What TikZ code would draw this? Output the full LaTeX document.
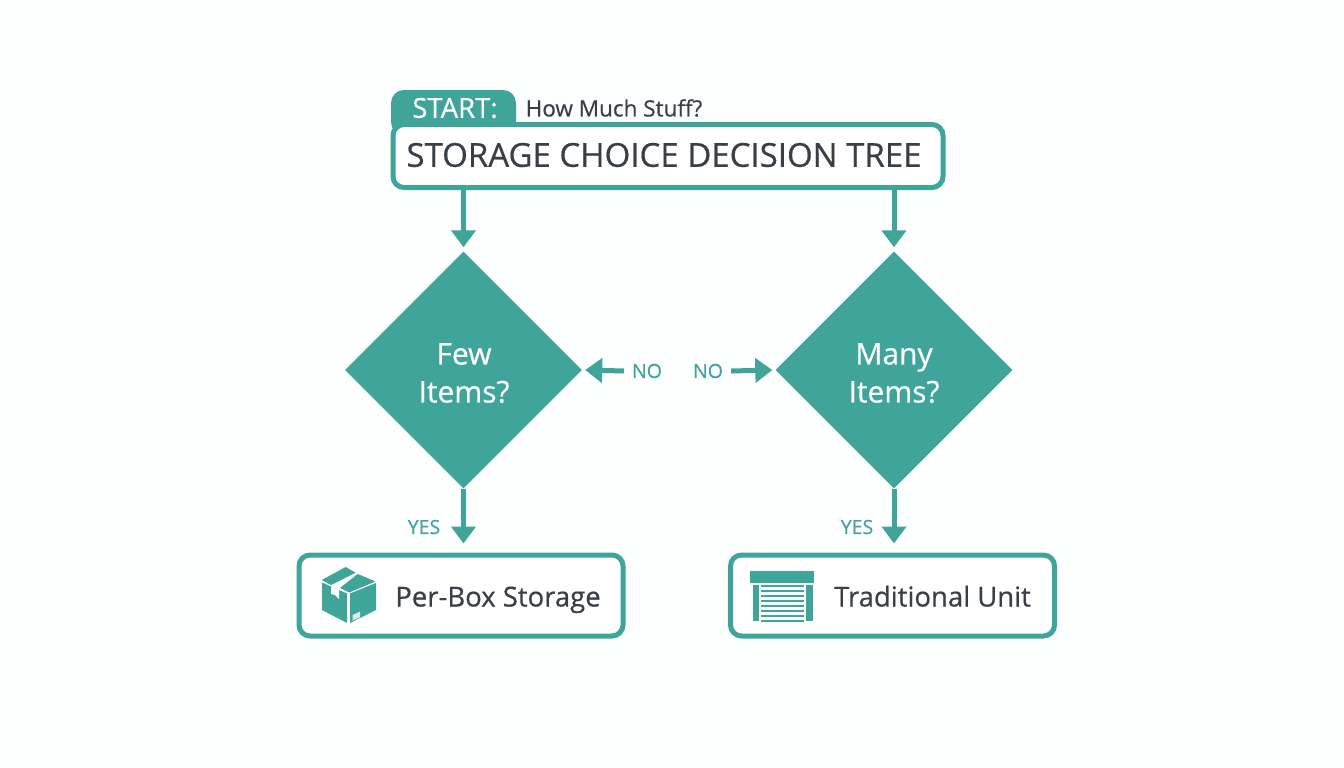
\documentclass[tikz,border=0pt]{standalone}
\usepackage{fontspec}
\setmainfont{Open Sans}
\newfontfamily\semi[FakeBold=0.5]{Open Sans}
\usetikzlibrary{shapes.geometric,arrows.meta,calc}
\definecolor{teal1}{HTML}{3FA59B}
\definecolor{ink}{HTML}{383F47}
\definecolor{paper}{HTML}{FDFEFE}
\tikzset{
 framebox/.style={draw=teal1,line width=5pt,rounded corners=11pt,fill=white,inner sep=0pt},
 choice/.style={diamond,aspect=1,fill=teal1,minimum width=237pt,minimum height=237pt,inner sep=0pt},
 choicetext/.style={text=white,align=center,inner sep=0pt,font=\fontsize{30}{38}\selectfont\semi},
 flow/.style={draw=teal1,line width=5pt,-{Triangle[width=24pt,length=17pt]}},
 lab/.style={text=teal1,font=\fontsize{19.5}{22}\selectfont\semi,inner sep=0pt},
 boxtext/.style={text=ink,font=\fontsize{27.5}{30}\selectfont\semi,inner sep=0pt,anchor=base}
}
\begin{document}
\begin{tikzpicture}[x=1pt,y=-1pt]
\useasboundingbox (0,0) rectangle (1344,768);
\fill[paper] (0,0) rectangle (1344,768);
% tab
\fill[teal1,rounded corners=13pt] (391,135) -- (391,90) -- (516,90) -- (516,135) -- cycle;
\node[framebox,minimum width=550pt,minimum height=63pt] (title) at (668,156) {};
\node[text=ink,font=\fontsize{33}{36}\selectfont\semi,inner sep=0pt] (titletext) at (664,155) {STORAGE CHOICE DECISION TREE};
\node[text=white,font=\fontsize{27.5}{30}\selectfont\semi,inner sep=0pt] (start) at (455,108) {START:};
\node[text=ink,font=\fontsize{22.5}{24}\selectfont\semi,inner sep=0pt] (much) at (614,108) {How Much Stuff?};
% decisions
\node[choice] (few) at (463.5,370) {};
\node[choice] (many) at (894,370) {};
\node[choicetext] (fewtext) at (464,373) {Few\\Items?};
\node[choicetext] (manytext) at (894,373) {Many\\Items?};
% outcomes
\node[framebox,minimum width=324pt,minimum height=81pt] (perbox) at (461,595.5) {};
\node[framebox,minimum width=324pt,minimum height=81pt] (unit) at (892.5,595.5) {};
\node[boxtext] (perboxtext) at (498,606.5) {Per-Box Storage};
\node[boxtext] (unittext) at (932.5,606.5) {Traditional Unit};
% labels
\node[lab] (nol) at (647,371) {NO};
\node[lab] (nor) at (708,371) {NO};
\node[lab] (yesl) at (424,527) {YES};
\node[lab] (yesr) at (857,527) {YES};
% connectors
\draw[flow] (title.south -| few.north) -- ($(few.north)+(0,-4)$);
\draw[flow] (title.south -| many.north) -- ($(many.north)+(0,-4)$);
\draw[flow] (few.south) -- ($(perbox.north -| few.south)+(0,-9)$);
\draw[flow] (many.south) -- ($(unit.north -| many.south)+(0,-9)$);
\draw[flow] ($(nol.west)+(-8,0)$) -- ($(few.east)+(3,0)$);
\draw[flow] ($(nor.east)+(8,0)$) -- ($(many.west)+(-3,0)$);
% box icon
\fill[teal1] (321.7,580) -- (345.7,567) -- (355.7,572.7) -- (331,585) -- cycle;
\fill[teal1] (357.7,574) -- (375.5,581.5) -- (349.3,592.5) -- (340,588) -- cycle;
\fill[teal1] (322,582.5) -- (347,593.5) -- (347,623) -- (322,610) -- cycle;
\fill[teal1] (350,593.5) -- (376,583) -- (376,610) -- (350,623) -- cycle;
\fill[white] (331,586.5) -- (339,590) -- (339,599) -- (335,595) -- (331,594) -- cycle;
\fill[white!80!teal1] (352.5,615) -- (360,611.7) -- (360,617.3) -- (352.5,620.7) -- cycle;
% garage icon
\fill[teal1] (750,570.5) rectangle (814,582.7);
\fill[teal1] (752.5,585) rectangle (759,621);
\fill[teal1] (806,585) rectangle (812.5,621);
\foreach \y in {585,590,595,600,605,610,615,619.5}
  \fill[teal1] (761,\y) rectangle (804,\y+2.3);
\end{tikzpicture}
\end{document}
